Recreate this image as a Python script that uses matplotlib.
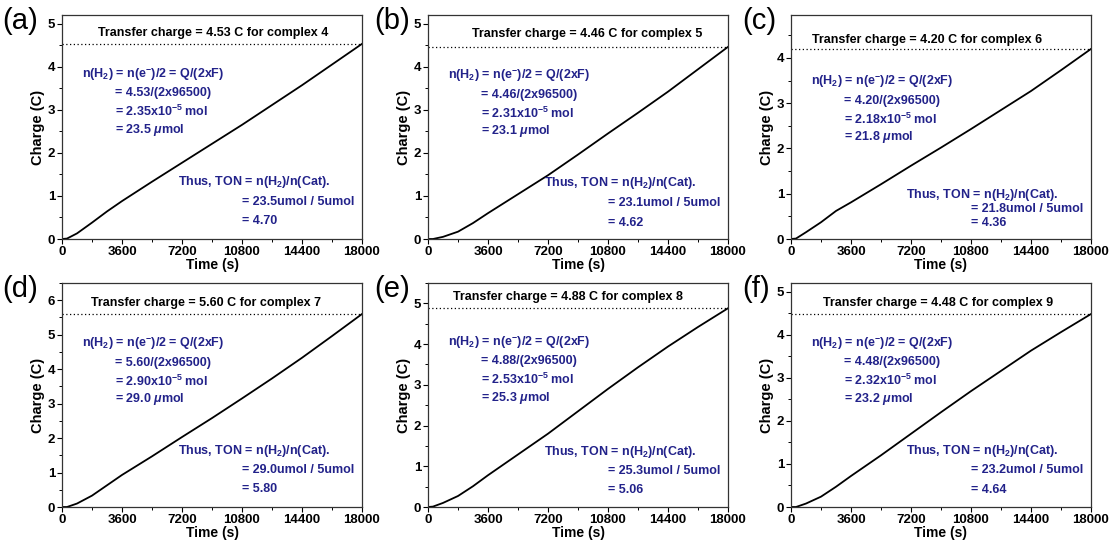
import matplotlib
matplotlib.use("Agg")
import matplotlib.pyplot as plt
from matplotlib import font_manager
from matplotlib.ticker import MultipleLocator

# narrow font for the annotations if available
names = {f.name for f in font_manager.fontManager.ttflist}
NARROW = "Liberation Sans Narrow" if "Liberation Sans Narrow" in names else "Liberation Sans"

plt.rcParams["font.family"] = ["Liberation Sans", "DejaVu Sans"]
plt.rcParams["mathtext.fontset"] = "custom"
plt.rcParams["mathtext.rm"] = NARROW + ":bold"
plt.rcParams["mathtext.it"] = NARROW + ":bold:italic"
plt.rcParams["mathtext.bf"] = NARROW + ":bold"

BLUE = "#22228a"

panels = ["(a)", "(b)", "(c)", "(d)", "(e)", "(f)"]
complexes = [4, 5, 6, 7, 8, 9]
transfer_charge = [4.53, 4.46, 4.20, 5.60, 4.88, 4.48]
n_mol_e5 = ["2.35", "2.31", "2.18", "2.90", "2.53", "2.32"]
n_umol = ["23.5", "23.1", "21.8", "29.0", "25.3", "23.2"]
ton = ["4.70", "4.62", "4.36", "5.80", "5.06", "4.64"]
y_top = [5.2, 5.2, 4.95, 6.5, 5.5, 5.2]

time_s = [0, 300, 900, 1800, 2700, 3600, 5400, 7200, 9000, 10800, 12600, 14400, 16200, 18000]
charge_a = [0, 0.01, 0.13, 0.38, 0.64, 0.88, 1.33, 1.77, 2.21, 2.65, 3.11, 3.57, 4.05, 4.53]
charge_b = [0, 0.0, 0.05, 0.17, 0.37, 0.60, 1.04, 1.48, 1.96, 2.45, 2.93, 3.42, 3.94, 4.46]
charge_c = [0, 0.01, 0.15, 0.37, 0.62, 0.81, 1.21, 1.62, 2.02, 2.43, 2.85, 3.27, 3.73, 4.20]
charge_d = [0, 0.0, 0.10, 0.33, 0.63, 0.93, 1.47, 2.03, 2.58, 3.15, 3.73, 4.33, 4.96, 5.60]
charge_e = [0, 0.01, 0.10, 0.27, 0.51, 0.78, 1.29, 1.80, 2.35, 2.90, 3.43, 3.94, 4.42, 4.88]
charge_f = [0, 0.0, 0.08, 0.24, 0.47, 0.72, 1.20, 1.70, 2.20, 2.69, 3.16, 3.63, 4.06, 4.48]
charge = [charge_a, charge_b, charge_c, charge_d, charge_e, charge_f]

# layout (pixels of a 1113x545 canvas)
W, H = 1113, 545
col_left = [62, 428, 791]
row_top = [15, 283]
ax_w, ax_h = 300, 224
label_dx = [-0.198, -0.178, -0.163]

# text anchors per panel (axes fraction)
transfer_xy = [(0.505, 0.919), (0.53, 0.915), (0.455, 0.89),
               (0.48, 0.91), (0.466, 0.936), (0.49, 0.91)]
block1_y = [0.733, 0.726, 0.70, 0.726, 0.733, 0.73]
block2_y = [0.255, 0.249, 0.195, 0.25, 0.244, 0.251]
block2_dy = [0.088, 0.088, 0.062, 0.085, 0.085, 0.087]

fig = plt.figure(figsize=(W / 100, H / 100), dpi=100)

for i in range(6):
    r, c = divmod(i, 3)
    left = col_left[c] / W
    bottom = (H - row_top[r] - ax_h) / H
    ax = fig.add_axes([left, bottom, ax_w / W, ax_h / H])

    ax.plot(time_s, charge[i], color="black", lw=1.3)
    ax.axhline(transfer_charge[i], color="black", ls=(0, (1, 2)), lw=0.9)

    ax.set_xlim(0, 18000)
    ax.set_ylim(0, y_top[i])
    ax.set_xticks([0, 3600, 7200, 10800, 14400, 18000])
    ax.xaxis.set_minor_locator(MultipleLocator(1800))
    ax.yaxis.set_major_locator(MultipleLocator(1))
    ax.yaxis.set_minor_locator(MultipleLocator(0.5))
    ax.tick_params(which="major", direction="out", length=3.5, width=0.8,
                   labelsize=9.5, pad=1.5)
    ax.tick_params(which="minor", direction="out", length=2, width=0.7)
    for lab in ax.get_xticklabels() + ax.get_yticklabels():
        lab.set_fontweight("bold")
    for sp in ax.spines.values():
        sp.set_linewidth(0.9)
        sp.set_color("#333333")

    ax.set_xlabel("Time (s)", fontsize=10, fontweight="bold", labelpad=0)
    ax.set_ylabel("Charge (C)", fontsize=10.5, fontweight="bold", labelpad=2)

    ax.text(label_dx[c], 0.972, panels[i], transform=ax.transAxes, fontsize=21,
            ha="left", va="center")

    tx, ty = transfer_xy[i]
    ax.text(tx, ty, f"Transfer charge = {transfer_charge[i]:.2f} C for complex {complexes[i]}",
            transform=ax.transAxes, ha="center", va="center", fontsize=9,
            fontweight="bold", family=NARROW)

    q = f"{transfer_charge[i]:.2f}"
    lines1 = [
        (0.067, r"n(H$_2$) = n(e$^{-}$)/2 = Q/(2xF)"),
        (0.177, f"= {q}/(2x96500)"),
        (0.177, f"= {n_mol_e5[i]}x10" + r"$^{-5}$ mol"),
        (0.177, f"= {n_umol[i]} " + r"$\mu$mol"),
    ]
    for k, (x, s) in enumerate(lines1):
        ax.text(x, block1_y[i] - 0.082 * k, s, transform=ax.transAxes,
                ha="left", va="center", fontsize=9, fontweight="bold",
                color=BLUE, family=NARROW)

    lines2 = [
        (0.385, r"Thus, TON = n(H$_2$)/n(Cat)."),
        (0.60, f"= {n_umol[i]}umol / 5umol"),
        (0.60, f"= {ton[i]}"),
    ]
    for k, (x, s) in enumerate(lines2):
        ax.text(x, block2_y[i] - block2_dy[i] * k, s, transform=ax.transAxes,
                ha="left", va="center", fontsize=9, fontweight="bold",
                color=BLUE, family=NARROW)

fig.savefig("out.png", dpi=100)
